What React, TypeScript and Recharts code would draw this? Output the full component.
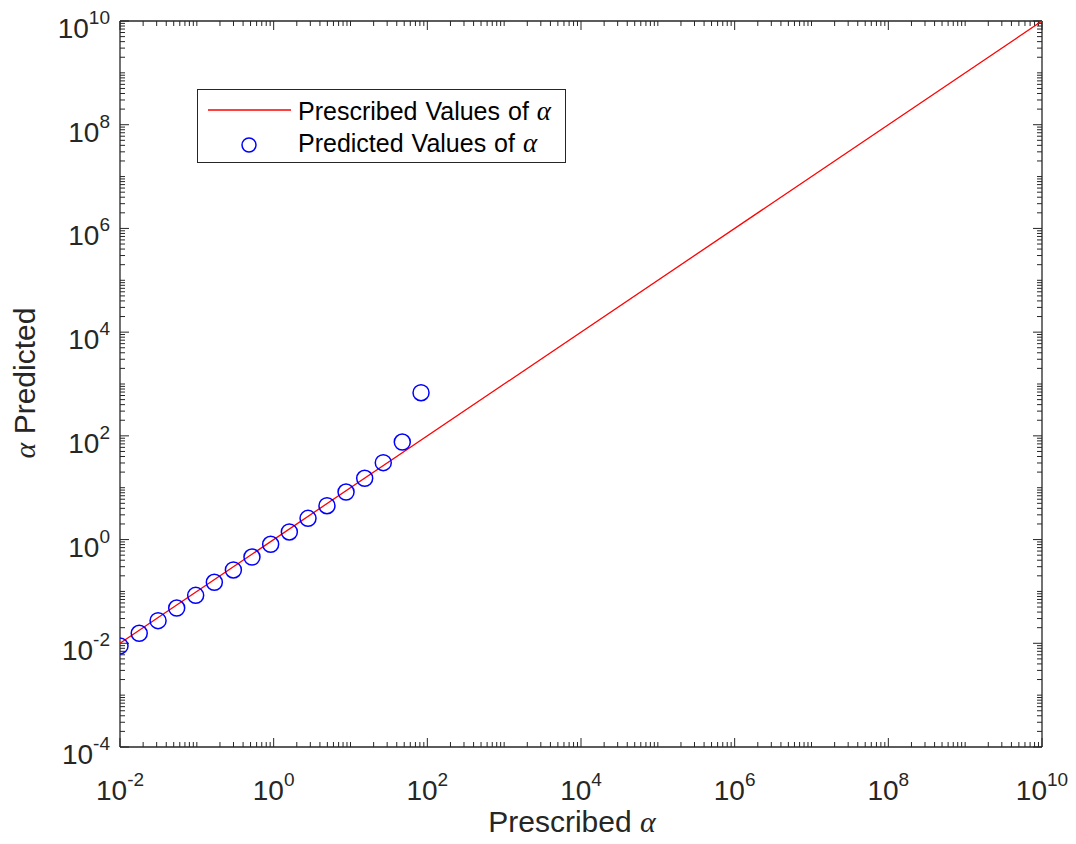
import React from 'react';
import { ScatterChart, Scatter, XAxis, YAxis, ReferenceLine, Legend, Customized } from 'recharts';

// prescribed alpha (red reference line y = x)
const prescribedX = [0.01, 1e10];
const prescribedY = [0.01, 1e10];

// predicted alpha (blue circles)
const predictedX = [0.01, 0.0178, 0.0313, 0.0547, 0.0966, 0.169, 0.299, 0.522, 0.914, 1.6, 2.8, 4.94, 8.75, 15.3, 26.7, 47.2, 82.8];
const predictedY = [0.0089, 0.0156, 0.0273, 0.0479, 0.0841, 0.15, 0.259, 0.461, 0.811, 1.4, 2.57, 4.5, 8.26, 15.2, 30.4, 76.1, 679];

const xTicks = [1e-2, 1e0, 1e2, 1e4, 1e6, 1e8, 1e10];
const yTicks = [1e-4, 1e-2, 1e0, 1e2, 1e4, 1e6, 1e8, 1e10];

const INK = '#262626';
const FONT = '"Liberation Sans", Arial, Helvetica, sans-serif';

// minor tick positions: 2..9 of every decade plus the unlabelled odd decades
function minorTicks(from: number, to: number) {
  const out: number[] = [];
  for (let d = from; d < to; d++) {
    if (d % 2 !== 0) out.push(Math.pow(10, d));
    for (let k = 2; k <= 9; k++) out.push(k * Math.pow(10, d));
  }
  return out;
}
const xMinor = minorTicks(-2, 10);
const yMinor = minorTicks(-4, 10);

const lineData = prescribedX.map((x, i) => ({ x, y: prescribedY[i] }));
const pointData = predictedX.map((x, i) => ({ x, y: predictedY[i] }));

const expOf = (v: number) => String(Math.round(Math.log10(v)));

function XTick(props: any) {
  const { x, y, payload } = props;
  return (
    <text x={x} y={y + 53} textAnchor="middle" fill={INK} fontFamily={FONT} fontSize={28}>
      <tspan>10</tspan>
      <tspan dy={-14} fontSize={19}>{expOf(payload.value)}</tspan>
    </text>
  );
}

function YTick(props: any) {
  const { x, y, payload } = props;
  return (
    <text x={x} y={y + 17} textAnchor="end" fill={INK} fontFamily={FONT} fontSize={28}>
      <tspan>10</tspan>
      <tspan dy={-14} fontSize={19}>{expOf(payload.value)}</tspan>
    </text>
  );
}

const xTickShape = (len: number) => (p: any) => {
  const yb = Math.max(p.y1, p.y2);
  const yt = Math.min(p.y1, p.y2);
  return (
    <g stroke={INK} strokeWidth={1}>
      <line x1={p.x1} x2={p.x1} y1={yb} y2={yb - len} />
      <line x1={p.x1} x2={p.x1} y1={yt} y2={yt + len} />
    </g>
  );
};

const yTickShape = (len: number) => (p: any) => {
  const xl = Math.min(p.x1, p.x2);
  const xr = Math.max(p.x1, p.x2);
  return (
    <g stroke={INK} strokeWidth={1}>
      <line x1={xl} x2={xl + len} y1={p.y1} y2={p.y1} />
      <line x1={xr} x2={xr - len} y1={p.y1} y2={p.y1} />
    </g>
  );
};

const alpha = (size?: number) => (
  <tspan fontFamily='"Liberation Serif", "DejaVu Serif", serif' fontStyle="italic" fontSize={size}>
    α
  </tspan>
);

function LegendBox() {
  return (
    <div style={{ width: 369, height: 74, background: '#fff', border: `1px solid ${INK}`, boxSizing: 'border-box' }}>
      <svg width={367} height={72}>
        <line x1={10} x2={93} y1={20} y2={20} stroke="#ff0000" strokeWidth={1.3} />
        <text x={100} y={30} fontFamily={FONT} fontSize={25} fill="#000" wordSpacing={1}>
          Prescribed Values of {alpha(27)}
        </text>
        <circle cx={51} cy={55} r={7} fill="none" stroke="#0000ff" strokeWidth={1.5} />
        <text x={100} y={62} fontFamily={FONT} fontSize={25} fill="#000" wordSpacing={1}>
          Predicted Values of {alpha(27)}
        </text>
      </svg>
    </div>
  );
}

function AxisTitles() {
  return (
    <g fill={INK} fontFamily={FONT} fontSize={30}>
      <text x={572} y={832} textAnchor="middle">
        Prescribed {alpha()}
      </text>
      <text x={35} y={383} textAnchor="middle" transform="rotate(-90 35 383)">
        {alpha()} Predicted
      </text>
    </g>
  );
}

export default function App() {
  return (
    <div style={{ position: 'absolute', left: 0, top: 0, width: 1076, height: 844, background: '#fff' }}>
      <ScatterChart width={1076} height={844} margin={{ top: 21, right: 34, left: 0, bottom: 0 }}>
        <XAxis
          dataKey="x"
          type="number"
          scale="log"
          domain={[1e-2, 1e10]}
          allowDataOverflow
          ticks={xTicks}
          interval={0}
          height={97}
          tickSize={0}
          tickMargin={0}
          tickLine={false}
          axisLine={{ stroke: INK, strokeWidth: 1.3 }}
          tick={<XTick />}
        />
        <YAxis
          dataKey="y"
          type="number"
          scale="log"
          domain={[1e-4, 1e10]}
          allowDataOverflow
          ticks={yTicks}
          interval={0}
          width={120}
          tickSize={0}
          tickMargin={10}
          tickLine={false}
          axisLine={{ stroke: INK, strokeWidth: 1.3 }}
          tick={<YTick />}
        />
        <ReferenceLine x={1e10} stroke={INK} strokeWidth={1.3} ifOverflow="visible" />
        <ReferenceLine y={1e10} stroke={INK} strokeWidth={1.3} ifOverflow="visible" />
        {xMinor.map((v) => (
          <ReferenceLine key={`xm-${v}`} x={v} ifOverflow="visible" shape={xTickShape(5)} />
        ))}
        {xTicks.map((v) => (
          <ReferenceLine key={`xM-${v}`} x={v} ifOverflow="visible" shape={xTickShape(9)} />
        ))}
        {yMinor.map((v) => (
          <ReferenceLine key={`ym-${v}`} y={v} ifOverflow="visible" shape={yTickShape(5)} />
        ))}
        {yTicks.map((v) => (
          <ReferenceLine key={`yM-${v}`} y={v} ifOverflow="visible" shape={yTickShape(9)} />
        ))}
        <Scatter
          name="Prescribed Values of α"
          data={lineData}
          line={{ stroke: '#ff0000', strokeWidth: 1.3 }}
          shape={() => <g />}
          isAnimationActive={false}
        />
        <Scatter
          name="Predicted Values of α"
          data={pointData}
          shape={(p: any) => <circle cx={p.cx} cy={p.cy} r={8} fill="none" stroke="#0000ff" strokeWidth={1.5} />}
          isAnimationActive={false}
        />
        <Legend
          layout="vertical"
          align="center"
          verticalAlign="middle"
          wrapperStyle={{ left: 197, top: 89, width: 369, height: 74 }}
          content={() => <LegendBox />}
        />
        <Customized component={<AxisTitles />} />
      </ScatterChart>
    </div>
  );
}
